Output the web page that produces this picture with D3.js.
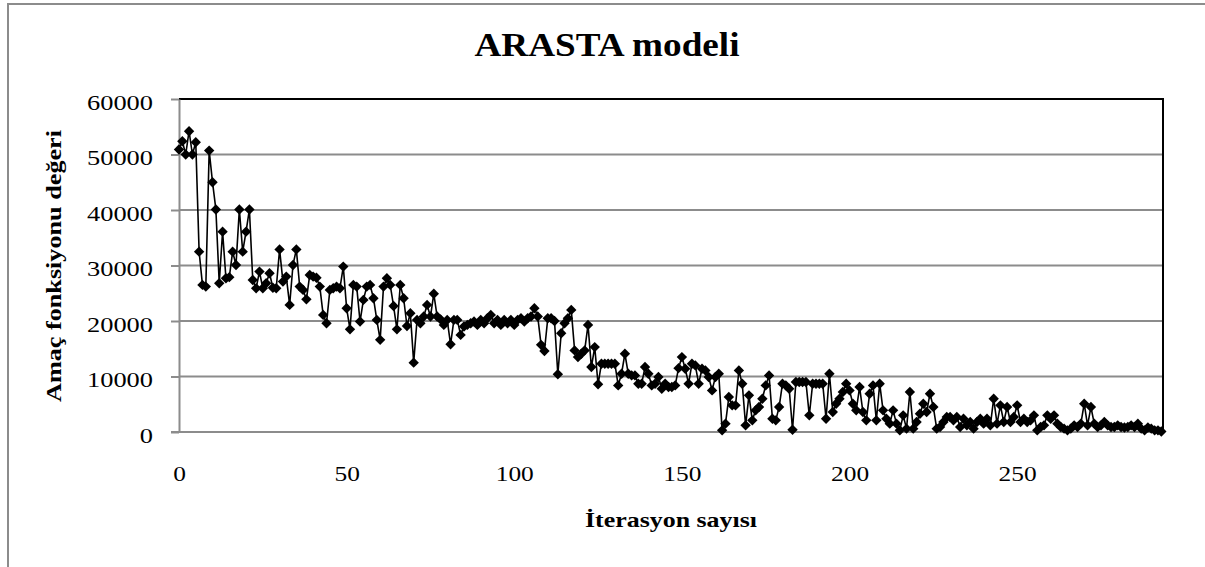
<!DOCTYPE html>
<html>
<head>
<meta charset="utf-8">
<script src="https://cdn.jsdelivr.net/npm/d3@7"></script>
<style>
html,body{margin:0;padding:0;background:#fff;}
svg{display:block;}
</style>
</head>
<body>
<svg id="chart" width="1205" height="567"></svg>
<script>
const titleText = "ARASTA\u2009modeli";
const yAxisTitle = "Amaç fonksiyonu değeri";
const xAxisTitle = "İterasyon sayısı";
const xTicks = [0, 50, 100, 150, 200, 250];
const yTicks = [0, 10000, 20000, 30000, 40000, 50000, 60000];

const values = [
50900,52400,50000,54200,50000,52200,32500,26500,26200,50700,
45000,40100,26800,36100,27700,27900,32500,30100,40100,32500,
36100,40100,27400,25900,28900,25900,26800,28600,26000,25900,
32900,27100,28000,22900,30100,32900,26200,25600,23900,28300,
28000,27800,26200,21100,19600,25600,25900,26200,25900,29800,
22300,18500,26500,26200,19900,23800,26200,26500,24100,20200,
16600,26200,27700,26500,22700,18500,26500,24100,19100,21400,
12500,20200,19600,20800,22900,20800,24900,20800,20300,19300,
20200,15800,20200,20200,17500,19000,19300,19600,19900,19300,
20200,19600,20500,21100,19600,20200,19300,20200,19600,20200,
19300,20200,20500,19900,20500,20800,22300,20800,15700,14600,
20500,20500,20000,10400,17800,19600,20500,22000,14700,13500,
14100,14700,19300,11700,15300,8600,12300,12300,12300,12300,
12300,8400,10500,14100,10500,10200,10200,8700,8700,11700,
10500,8400,8700,9900,7800,8700,8100,8100,8400,11500,
13500,11400,8700,12300,12000,8700,11400,11100,9900,7500,
9900,10500,300,1500,6300,4800,4800,11100,8700,1200,
6600,2100,3900,4500,6000,8400,10200,2400,2100,4500,
8700,8400,7800,400,9000,9000,9000,9000,3000,8700,
8700,8700,8700,2400,10500,3600,5100,6000,7200,8700,
7500,5100,3900,8100,3600,2100,6900,8400,2100,8700,
3900,2400,1500,3900,1500,300,3000,600,7200,600,
1800,3300,5100,3600,6900,4500,600,900,1800,2700,
2700,2100,2700,900,2400,1200,1800,600,1800,2400,
1500,2400,1200,6000,1500,4800,1800,4500,1800,2700,
4800,1800,2400,1800,2100,3000,300,900,1200,3000,
2400,3000,1500,900,600,300,600,1200,900,1500,
5100,1200,4500,1500,900,1200,1800,1200,900,900,
1200,900,800,900,1200,900,1500,600,300,800,
600,300,300,100
];
const iterations = values.map((v, i) => i);

const svg = d3.select("#chart");
const W = 1205, H = 567;
const plot = {left: 179, right: 1163, top: 99, bottom: 432};
const serif = "'Liberation Serif','Times New Roman',Times,serif";
const gridColor = "#8c8c8c";

svg.append("rect").attr("x",0).attr("y",0).attr("width",W).attr("height",H).attr("fill","#fff");
// outer chart border (cropped on right/bottom)
svg.append("rect").attr("x",8).attr("y",4).attr("width",1220).attr("height",600)
  .attr("fill","none").attr("stroke",gridColor).attr("stroke-width",2);

const x = d3.scaleLinear().domain([0, 293.5]).range([plot.left, plot.right]);
const y = d3.scaleLinear().domain([0, 60000]).range([plot.bottom, plot.top]);

// gridlines
svg.append("g").selectAll("line").data(yTicks.filter(t => t > 0 && t < 60000)).join("line")
  .attr("x1", plot.left).attr("x2", plot.right)
  .attr("y1", d => y(d)).attr("y2", d => y(d))
  .attr("stroke", gridColor).attr("stroke-width", 2);

// plot border top/right
svg.append("path")
  .attr("d", `M${plot.left},${plot.top}H${plot.right}V${plot.bottom}`)
  .attr("fill","none").attr("stroke","#000").attr("stroke-width",2);

// y axis
const yAxis = svg.append("g").attr("transform", `translate(${plot.left},0)`)
  .call(d3.axisLeft(y).tickValues(yTicks).tickSize(8).tickSizeOuter(0).tickFormat(d3.format("d")));
yAxis.select(".domain").attr("stroke", gridColor).attr("stroke-width", 2);
yAxis.selectAll(".tick line").attr("stroke", gridColor).attr("stroke-width", 2);
yAxis.selectAll(".tick text")
  .attr("x", -26).attr("dy", null).attr("y", 10)
  .attr("font-family", serif).attr("font-size", 22).attr("fill", "#000")
  .attr("text-anchor", "end")
  .attr("textLength", d => String(d).length * 13.2)
  .attr("lengthAdjust", "spacingAndGlyphs");

// x axis
const xAxis = svg.append("g").attr("transform", `translate(0,${plot.bottom})`)
  .call(d3.axisBottom(x).tickValues(xTicks).tickSize(0).tickSizeOuter(0).tickFormat(d3.format("d")));
xAxis.select(".domain").attr("stroke", gridColor).attr("stroke-width", 2)
  .attr("d", `M${plot.left - 8},0H${plot.right}`);
xAxis.selectAll(".tick text")
  .attr("y", 49).attr("dy", null)
  .attr("font-family", serif).attr("font-size", 22).attr("fill", "#000")
  .attr("textLength", d => String(d).length * 12.7)
  .attr("lengthAdjust", "spacingAndGlyphs");

// series line
const line = d3.line().x((d, i) => x(iterations[i])).y(d => y(d));
svg.append("path").datum(values)
  .attr("d", line).attr("fill","none").attr("stroke","#000").attr("stroke-width",1.6)
  .attr("stroke-linejoin","round");

// diamond markers
svg.append("g").selectAll("path").data(values).join("path")
  .attr("transform", (d, i) => `translate(${x(iterations[i])},${y(d)})`)
  .attr("d", "M0,-5.2L5.2,0L0,5.2L-5.2,0Z")
  .attr("fill", "#000");

// title
svg.append("text").attr("x", 607).attr("y", 56)
  .attr("text-anchor","middle").attr("font-family", serif).attr("font-weight","bold")
  .attr("font-size", 33).attr("textLength", 265).attr("lengthAdjust","spacingAndGlyphs")
  .text(titleText);

// y axis title
svg.append("text").attr("transform", "translate(61,266) rotate(-90)")
  .attr("text-anchor","middle").attr("font-family", serif).attr("font-weight","bold")
  .attr("font-size", 21).attr("textLength", 272).attr("lengthAdjust","spacingAndGlyphs")
  .text(yAxisTitle);

// x axis title
svg.append("text").attr("x", 671).attr("y", 527)
  .attr("text-anchor","middle").attr("font-family", serif).attr("font-weight","bold")
  .attr("font-size", 21).attr("textLength", 172).attr("lengthAdjust","spacingAndGlyphs")
  .text(xAxisTitle);
</script>
</body>
</html>
